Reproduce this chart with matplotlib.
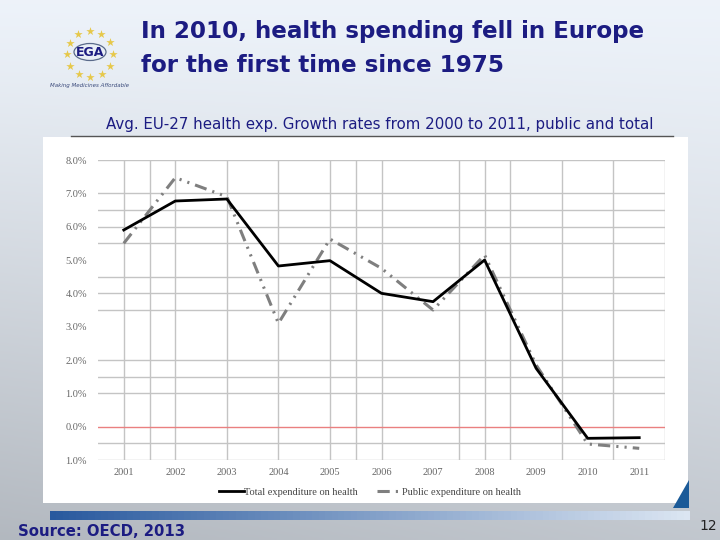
import numpy as np
import matplotlib
matplotlib.use("Agg")
import matplotlib.pyplot as plt
from matplotlib.patches import Rectangle, Ellipse, Polygon

# data
years = ['2001', '2002', '2003', '2004', '2005', '2006', '2007', '2008', '2009', '2010', '2011']
total = [5.9, 6.77, 6.83, 4.82, 4.98, 4.0, 3.75, 5.0, 1.75, -0.35, -0.33]
public = [5.5, 7.47, 6.9, 3.1, 5.63, 4.75, 3.5, 5.15, 1.85, -0.52, -0.65]
y_ticks = [8, 7, 6, 5, 4, 3, 2, 1, 0, -1]
y_labels = ['8.0%', '7.0%', '6.0%', '5.0%', '4.0%', '3.0%', '2.0%', '1.0%', '0.0%', '1.0%']

navy = '#1c1c82'

fig = plt.figure(figsize=(7.2, 5.4), dpi=100)

# slide background in pixel coordinates
bg = fig.add_axes([0, 0, 1, 1], zorder=0)
bg.set_xlim(0, 720)
bg.set_ylim(540, 0)
bg.axis('off')
yy, xx = np.mgrid[0:1:200j, 0:1:200j]
shade = 0.97 - 0.17 * yy ** 1.2 - 0.06 * (1 - xx) * yy
img = np.dstack([shade - 0.04, shade - 0.018, shade + 0.01]).clip(0, 1)
bg.imshow(img, extent=(0, 720, 540, 0), aspect='auto')

# logo
ang = np.linspace(0, 2 * np.pi, 13)[:-1]
bg.scatter(90 + 23 * np.cos(ang), 54 + 23 * np.sin(ang), marker='*', s=40,
           color='#e6c84a', linewidths=0)
bg.add_patch(Ellipse((90, 52), 32, 17, fill=False, ec='#5a6a8a', lw=0.9))
bg.text(90, 52, 'EGA', ha='center', va='center', fontsize=9, fontweight='bold', color=navy)
bg.text(90, 86, 'Making Medicines Affordable', ha='center', va='center',
        fontsize=4, style='italic', color='#3a4a7a')

# titles
bg.text(141, 38, 'In 2010, health spending fell in Europe', fontsize=16.6,
        fontweight='bold', color=navy, va='baseline')
bg.text(141, 72, 'for the first time since 1975', fontsize=16.6,
        fontweight='bold', color=navy, va='baseline')
bg.text(106, 129, 'Avg. EU-27 health exp. Growth rates from 2000 to 2011, public and total',
        fontsize=10.8, color=navy, va='baseline')
bg.plot([71, 673], [136, 136], color='#555555', lw=1)

# white chart panel and bar under it
bg.add_patch(Rectangle((43, 137), 645, 366, fc='white', ec='none'))
bar = np.linspace(0, 1, 100)[None, :]
bar_img = np.dstack([0.16 + 0.7 * bar, 0.35 + 0.55 * bar, 0.62 + 0.33 * bar])
bg.imshow(bar_img, extent=(50, 690, 520, 511), aspect='auto')
bg.add_patch(Polygon([(673, 508), (689, 480), (689, 508)], fc='#1b5a98', ec='none'))

bg.text(18, 536, 'Source: OECD, 2013', fontsize=10.7, fontweight='bold', color=navy,
        va='baseline')
bg.text(708, 530, '12', fontsize=10, color='#222222', ha='center', va='baseline')

# chart
ax = fig.add_axes([98 / 720, 1 - 460 / 540, 567 / 720, 300 / 540], zorder=1)
ax.patch.set_alpha(0)
x = np.arange(len(years))

for v in [8, 7, 6.5, 6, 5.5, 4.5, 4, 3.5, 2, 1.5, 1, -0.5, -1]:
    ax.axhline(v, color='#c4c4c4', lw=1, zorder=1)
for v in [0, 0.5, 1, 2, 3, 4, 4.5, 5, 6.5, 7, 7.5, 8.5, 9.5, 10.5]:
    ax.axvline(v, color='#c4c4c4', lw=1, zorder=1)
ax.axhline(0, color='#ea8080', lw=1, zorder=2)

ax.plot(x, total, color='black', lw=2, zorder=4, label='Total expenditure on health')
ax.plot(x, public, color='#7f7f7f', lw=2.2, zorder=3, dashes=(4, 2, 0.7, 2, 0.7, 2),
        label='Public expenditure on health')

ax.set_xlim(-0.5, 10.5)
ax.set_ylim(-1, 8)
ax.set_xticks(x)
ax.set_xticklabels(years)
ax.set_yticks(y_ticks)
ax.set_yticklabels(y_labels)
for s in ax.spines.values():
    s.set_visible(False)
ax.tick_params(length=0, labelsize=7.5, labelcolor='#666666', pad=6)
ax.tick_params(axis='y', pad=8)
for t in ax.get_xticklabels() + ax.get_yticklabels():
    t.set_family('Liberation Serif')

leg = ax.legend(loc='upper center', bbox_to_anchor=(0.48, -0.06), ncol=2, frameon=False,
                handlelength=2.4, handletextpad=0.05, columnspacing=1.8,
                prop={'family': 'Liberation Serif', 'size': 7.5})
for t in leg.get_texts():
    t.set_color('#444444')

fig.savefig('out.png', dpi=100)
